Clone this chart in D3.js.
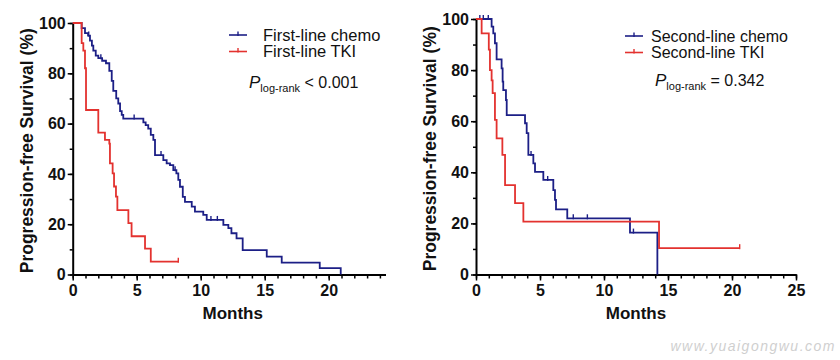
<!DOCTYPE html>
<html><head><meta charset="utf-8">
<script src="https://cdn.jsdelivr.net/npm/d3@7"></script>
<style>
html,body{margin:0;padding:0;background:#fff;}
svg{display:block;font-family:"Liberation Sans",Arial,sans-serif;}
</style></head>
<body>
<svg id="chart" width="840" height="360"></svg>
<script>
// ---------- data ----------
const leftXTicks = [0, 5, 10, 15, 20];
const rightXTicks = [0, 5, 10, 15, 20, 25];
const yMajorTicks = [0, 20, 40, 60, 80, 100];

// Left panel: first-line
const firstChemoTimes = [0, 0.7, 0.96, 1.2, 1.35, 1.5, 1.61, 1.8, 2.0, 2.3, 2.6, 2.86, 3.05, 3.17, 3.4, 3.56, 3.7, 3.83, 3.95, 5.52, 5.7, 5.9, 6.1, 6.3, 6.43, 7.08, 7.34, 7.6, 7.86, 8.1, 8.25, 8.38, 8.6, 8.77, 9.3, 9.55, 10.2, 10.47, 11.77, 12.16, 12.4, 12.8, 13.28, 15.16, 16.33, 19.3, 20.94];
const firstChemoSurv  = [100, 98, 96, 95, 93, 91, 89, 87, 86, 85, 84, 81, 77, 73, 70, 68, 65, 63.5, 62, 60.5, 59.4, 58, 55.5, 53.5, 47.5, 45.5, 44.2, 43.5, 41.5, 40.2, 37.6, 34.9, 30.9, 28.9, 27, 25, 23.7, 21.7, 19.7, 18.4, 16.4, 14.4, 9.7, 7.1, 4.7, 2.5, 0];
const firstChemoCensor = [1.25, 2.2, 4.8, 6.9, 8.0, 10.8, 11.3];

const firstTkiTimes = [0, 0.7, 0.83, 0.96, 1.04, 2.0, 2.52, 2.86, 2.91, 3.12, 3.23, 3.38, 3.49, 4.35, 4.6, 5.65, 6.1];
const firstTkiSurv  = [100, 92, 89, 82, 65.4, 56.4, 53.5, 52, 44.2, 40.2, 35, 31, 25.6, 20.4, 15.2, 10.3, 5.1];
const firstTkiEnd = 8.25;
const firstTkiCensor = [8.25];

// Right panel: second-line
const secondChemoTimes = [0, 1.22, 1.35, 1.48, 1.61, 2.0, 2.08, 2.13, 2.34, 2.4, 3.83, 3.96, 4.09, 4.48, 4.61, 5.26, 6.04, 6.17, 6.25, 7.13, 12.03, 14.17];
const secondChemoSurv  = [100, 97, 94.4, 90.5, 84.2, 80.7, 75.5, 72.2, 68.3, 62.4, 59.2, 55.3, 46.8, 43.5, 40.2, 37, 33, 29.2, 25.5, 22, 16.4, 0];
const secondChemoCensor = [0.3, 0.57, 0.96, 4.3, 5.6, 7.6, 8.7, 12.3];

const secondTkiTimes = [0, 0.44, 1.0, 1.09, 1.22, 1.3, 1.48, 1.61, 2.06, 2.27, 3.05, 3.7, 14.3];
const secondTkiSurv  = [100, 94.4, 88, 80, 76, 71, 60.5, 53.3, 46.8, 35, 27.9, 20.7, 10.3];
const secondTkiEnd = 20.6;
const secondTkiCensor = [20.6];

// ---------- drawing ----------
const svg = d3.select("#chart");
const BLUE = "#1c1f86", RED = "#e3322f";

function panel(o) {
  const g = svg.append("g");
  const x = d3.scaleLinear().domain([0, 25]).range([o.x0, o.x1]);
  const y = d3.scaleLinear().domain([0, 100]).range([o.y0, o.y1]);

  const clipId = "clip" + o.id;
  svg.append("clipPath").attr("id", clipId).append("rect")
    .attr("x", 0).attr("y", 0).attr("width", o.clipRight).attr("height", 360);
  const ax = g.append("g").attr("clip-path", `url(#${clipId})`);

  // x axis minor
  ax.append("g").attr("transform", `translate(0,${o.y0})`)
    .call(d3.axisBottom(x).tickValues(d3.range(0, 26)).tickSize(4).tickSizeOuter(0).tickFormat(""))
    .call(s => s.select(".domain").attr("stroke-width", 2))
    .call(s => s.selectAll(".tick line").attr("stroke-width", 1.5));
  // x axis major
  ax.append("g").attr("transform", `translate(0,${o.y0})`)
    .call(d3.axisBottom(x).tickValues(o.xTicks).tickSize(6).tickSizeOuter(0).tickPadding(4))
    .call(s => s.select(".domain").remove())
    .call(s => s.selectAll(".tick line").attr("stroke-width", 1.5))
    .call(s => s.selectAll(".tick text").attr("font-size", 16).attr("font-weight", "bold")
      .attr("fill", "#111").attr("font-family", "Liberation Sans, Arial, sans-serif"));

  // y axis minor
  g.append("g").attr("transform", `translate(${o.x0},0)`)
    .call(d3.axisLeft(y).tickValues(d3.range(0, 101, 10)).tickSize(3).tickSizeOuter(0).tickFormat(""))
    .call(s => s.select(".domain").attr("stroke-width", 2))
    .call(s => s.selectAll(".tick line").attr("stroke-width", 1.5));
  // y axis major
  g.append("g").attr("transform", `translate(${o.x0},0)`)
    .call(d3.axisLeft(y).tickValues(yMajorTicks).tickSize(5).tickSizeOuter(0).tickPadding(2))
    .call(s => s.select(".domain").remove())
    .call(s => s.selectAll(".tick line").attr("stroke-width", 1.5))
    .call(s => s.selectAll(".tick text").attr("font-size", 16).attr("font-weight", "bold")
      .attr("fill", "#111").attr("font-family", "Liberation Sans, Arial, sans-serif"));

  // axis titles
  g.append("text")
    .attr("transform", `translate(${o.titleX},${(o.y0 + o.y1) / 2 + 2}) rotate(-90)`)
    .attr("text-anchor", "middle").attr("font-size", 17.5).attr("font-weight", "bold").attr("fill", "#111")
    .text("Progression-free Survival (%)");
  g.append("text")
    .attr("x", x(12.5)).attr("y", o.y0 + 44)
    .attr("text-anchor", "middle").attr("font-size", 17).attr("font-weight", "bold").attr("fill", "#111")
    .text("Months");

  const line = d3.line().x(d => x(d[0])).y(d => y(d[1])).curve(d3.curveStepAfter);

  o.series.forEach(s => {
    const pts = s.times.map((t, i) => [t, s.surv[i]]);
    const last = s.surv[s.surv.length - 1];
    const end = s.end !== undefined ? s.end : s.times[s.times.length - 1];
    pts.push([end, last]);
    g.append("path").attr("d", line(pts)).attr("fill", "none")
      .attr("stroke", s.color).attr("stroke-width", 1.8);
    // censor ticks
    const survAt = t => { let v = 100; s.times.forEach((tt, i) => { if (tt <= t) v = s.surv[i]; }); return v; };
    g.selectAll(null).data(s.censor).enter().append("line")
      .attr("x1", d => x(d)).attr("x2", d => x(d))
      .attr("y1", d => y(survAt(d)) - 4).attr("y2", d => y(survAt(d)) + 1)
      .attr("stroke", s.color).attr("stroke-width", 1.4);
  });

  // legend
  o.series.forEach((s, i) => {
    const ly = o.legY + i * 16.5;
    g.append("line").attr("x1", o.legX).attr("x2", o.legX + 18).attr("y1", ly).attr("y2", ly)
      .attr("stroke", s.color).attr("stroke-width", 1.6);
    g.append("line").attr("x1", o.legX + 9).attr("x2", o.legX + 9).attr("y1", ly - 3.5).attr("y2", ly + 1)
      .attr("stroke", s.color).attr("stroke-width", 1.4);
    g.append("text").attr("x", o.legX + o.legGap).attr("y", ly + 5.5)
      .attr("font-size", o.legFont).attr("fill", "#111").text(s.name);
  });

  const p = g.append("text").attr("x", o.pX).attr("y", o.pY).attr("fill", "#111");
  p.append("tspan").attr("font-size", 17).attr("font-style", "italic").text("P");
  p.append("tspan").attr("font-size", 11).attr("dy", 4).text("log-rank");
  p.append("tspan").attr("font-size", 16).attr("dy", -4).text(" " + o.pText);
}

panel({
  id: "L", x0: 72.7, x1: 392.7, y0: 274.5, y1: 23, clipRight: 386, titleX: 33, xTicks: leftXTicks,
  legX: 229, legY: 35, legGap: 34, legFont: 16.5, pX: 249, pY: 88, pText: "< 0.001",
  series: [
    {name: "First-line chemo", color: BLUE, times: firstChemoTimes, surv: firstChemoSurv, censor: firstChemoCensor},
    {name: "First-line TKI", color: RED, times: firstTkiTimes, surv: firstTkiSurv, censor: firstTkiCensor, end: firstTkiEnd}
  ]
});
panel({
  id: "R", x0: 476, x1: 796, y0: 274.5, y1: 19, clipRight: 840, titleX: 436, xTicks: rightXTicks,
  legX: 625, legY: 36, legGap: 26, legFont: 16, pX: 655, pY: 86, pText: "= 0.342",
  series: [
    {name: "Second-line chemo", color: BLUE, times: secondChemoTimes, surv: secondChemoSurv, censor: secondChemoCensor},
    {name: "Second-line TKI", color: RED, times: secondTkiTimes, surv: secondTkiSurv, censor: secondTkiCensor, end: secondTkiEnd}
  ]
});

// watermark
svg.append("text").attr("x", 836).attr("y", 351).attr("text-anchor", "end")
  .attr("font-size", 14).attr("font-style", "italic").attr("letter-spacing", 1.5)
  .attr("fill", "#cfcfcf").text("www.yuaigongwu.com");
</script>
</body></html>
